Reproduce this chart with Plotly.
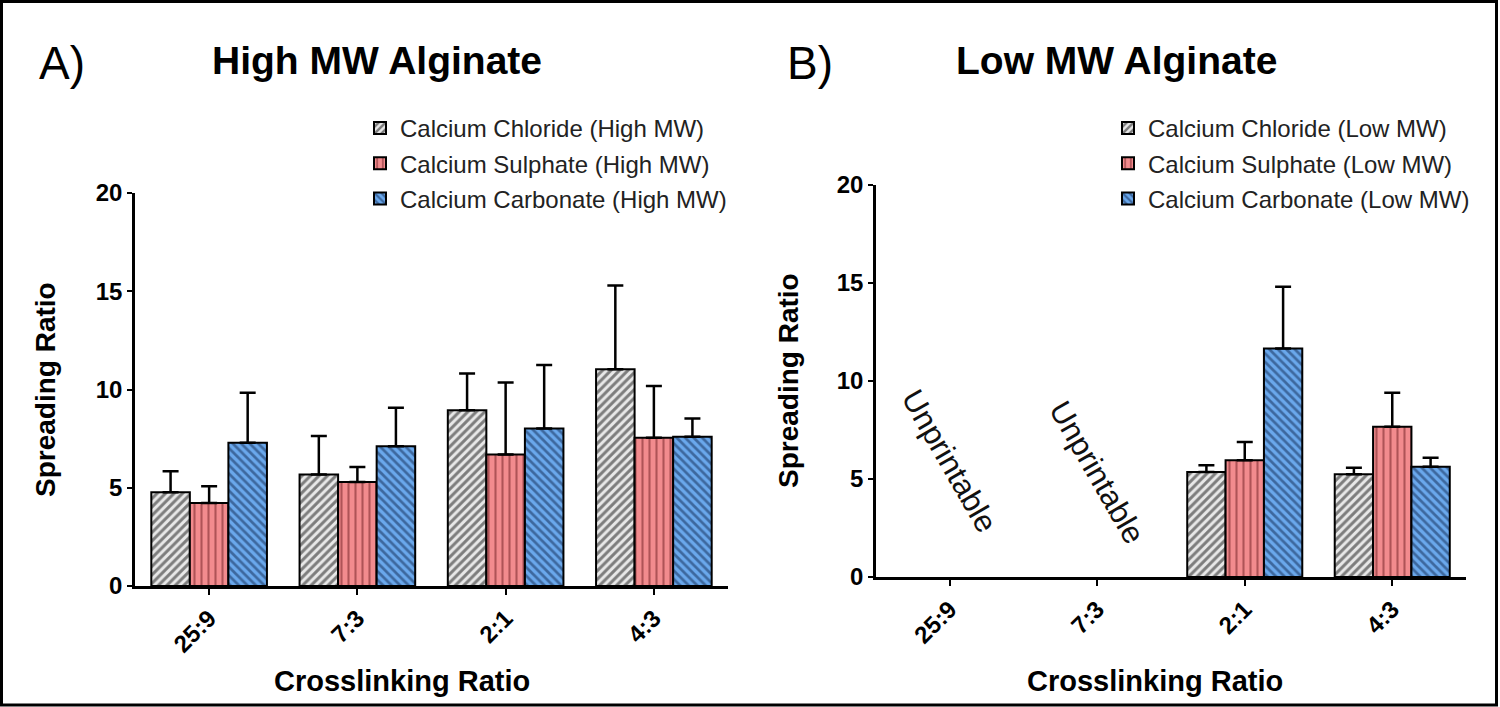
import plotly.graph_objects as go

# ---------------- data ----------------
categories = ["25:9", "7:3", "2:1", "4:3"]
y_ticks = [0, 5, 10, 15, 20]

names_high = ["Calcium Chloride (High MW)", "Calcium Sulphate (High MW)", "Calcium Carbonate (High MW)"]
names_low = ["Calcium Chloride (Low MW)", "Calcium Sulphate (Low MW)", "Calcium Carbonate (Low MW)"]

high_chloride = [4.77, 5.67, 8.95, 11.03]
high_chloride_err = [1.07, 1.96, 1.86, 4.26]
high_sulphate = [4.22, 5.29, 6.69, 7.54]
high_sulphate_err = [0.85, 0.77, 3.66, 2.64]
high_carbonate = [7.29, 7.11, 8.02, 7.59]
high_carbonate_err = [2.55, 1.96, 3.23, 0.94]

low_chloride = [None, None, 5.36, 5.24]
low_chloride_err = [None, None, 0.34, 0.33]
low_sulphate = [None, None, 5.96, 7.66]
low_sulphate_err = [None, None, 0.93, 1.74]
low_carbonate = [None, None, 11.66, 5.62]
low_carbonate_err = [None, None, 3.15, 0.47]

unprintable_cats = ["25:9", "7:3"]
unprintable_y = [5.9, 5.35]

# ---------------- styles ----------------
FONT = "Arial, Liberation Sans, sans-serif"
patterns = [
    dict(shape="/", bgcolor="#e8e8e8", fgcolor="#111111", size=6, solidity=0.5),
    dict(shape="|", bgcolor="#f28b8e", fgcolor="#6a1c20", size=7, solidity=0.3),
    dict(shape="\\", bgcolor="#6aa8ec", fgcolor="#102850", size=6, solidity=0.45),
]

fig = go.Figure()


def add_panel(vals, errs, names, xa, ya, leg):
    for v, e, n, p in zip(vals, errs, names, patterns):
        fig.add_trace(go.Bar(
            x=categories, y=v, name=n, xaxis=xa, yaxis=ya, legend=leg, legendgroup=n,
            marker=dict(pattern=p, line=dict(color="black", width=2)),
            error_y=dict(type="data", array=e, arrayminus=[0] * len(e), symmetric=False,
                         color="black", thickness=2.5, width=8),
        ))


add_panel([high_chloride, high_sulphate, high_carbonate],
          [high_chloride_err, high_sulphate_err, high_carbonate_err],
          names_high, "x", "y", "legend")
add_panel([low_chloride, low_sulphate, low_carbonate],
          [low_chloride_err, low_sulphate_err, low_carbonate_err],
          names_low, "x2", "y2", "legend2")

W, H = 1500, 707


def px(x):
    return x / W


def py(y):
    return 1 - y / H


xax = dict(type="category", categoryorder="array", categoryarray=categories,
           range=[-0.5, 3.5], showline=True, linecolor="black", linewidth=2.5,
           ticks="outside", ticklen=6, tickwidth=2, tickcolor="black", tickangle=-45,
           tickfont=dict(family=FONT, size=24, color="black", weight="bold"),
           showgrid=False, zeroline=False, fixedrange=True, automargin=False)
yax = dict(range=[0, 20], tickvals=y_ticks, showline=True, linecolor="black", linewidth=2.5,
           ticks="outside", ticklen=5, tickwidth=2, tickcolor="black",
           tickfont=dict(family=FONT, size=24, color="black", weight="bold"),
           showgrid=False, zeroline=False, automargin=False)

legend_common = dict(xanchor="left", yanchor="top", bgcolor="rgba(0,0,0,0)",
                     font=dict(family=FONT, size=24, color="#222"),
                     traceorder="grouped", tracegroupgap=1)

annotations = [
    dict(text="A)", x=px(62), y=py(63), font=dict(family=FONT, size=46, color="black")),
    dict(text="B)", x=px(810), y=py(63), font=dict(family=FONT, size=46, color="black")),
    dict(text="<b>High MW Alginate</b>", x=px(377), y=py(60), font=dict(family=FONT, size=39, color="black")),
    dict(text="<b>Low MW Alginate</b>", x=px(1116), y=py(60), font=dict(family=FONT, size=39, color="black")),
    dict(text="<b>Spreading Ratio</b>", x=px(46), y=py(390), textangle=-90, font=dict(family=FONT, size=28, color="black")),
    dict(text="<b>Spreading Ratio</b>", x=px(789), y=py(381), textangle=-90, font=dict(family=FONT, size=28, color="black")),
    dict(text="<b>Crosslinking Ratio</b>", x=px(402), y=py(681), font=dict(family=FONT, size=29, color="black")),
    dict(text="<b>Crosslinking Ratio</b>", x=px(1155), y=py(681), font=dict(family=FONT, size=29, color="black")),
]
for a in annotations:
    a.update(xref="paper", yref="paper", showarrow=False, xanchor="center", yanchor="middle")

for c, yv in zip(unprintable_cats, unprintable_y):
    annotations.append(dict(text="Unprintable", x=c, y=yv, xref="x2", yref="y2", showarrow=False,
                            textangle=60, font=dict(family=FONT, size=31, color="#111")))

fig.update_layout(
    width=W, height=H, margin=dict(l=0, r=0, t=0, b=0, pad=0, autoexpand=False),
    paper_bgcolor="white", plot_bgcolor="white",
    barmode="group", bargap=0.22, bargroupgap=0,
    xaxis=dict(xax, domain=[px(135), px(728)], anchor="y"),
    yaxis=dict(yax, domain=[py(586), py(193)], anchor="x"),
    xaxis2=dict(xax, domain=[px(876), px(1466)], anchor="y2"),
    yaxis2=dict(yax, domain=[py(577), py(185)], anchor="x2"),
    legend=dict(legend_common, x=px(360), y=py(106)),
    legend2=dict(legend_common, x=px(1108), y=py(106)),
    annotations=annotations,
    shapes=[dict(type="rect", xref="paper", yref="paper",
                 x0=px(1.5), x1=px(1496.5), y0=py(705), y1=py(1.5),
                 line=dict(color="black", width=3), fillcolor="rgba(0,0,0,0)")],
    showlegend=True,
)

post = (
    "document.documentElement.style.margin='0';"
    "document.body.style.margin='0';"
    "document.body.style.overflow='hidden';"
)
fig.write_html("out.html", config={"displayModeBar": False}, post_script=post)
